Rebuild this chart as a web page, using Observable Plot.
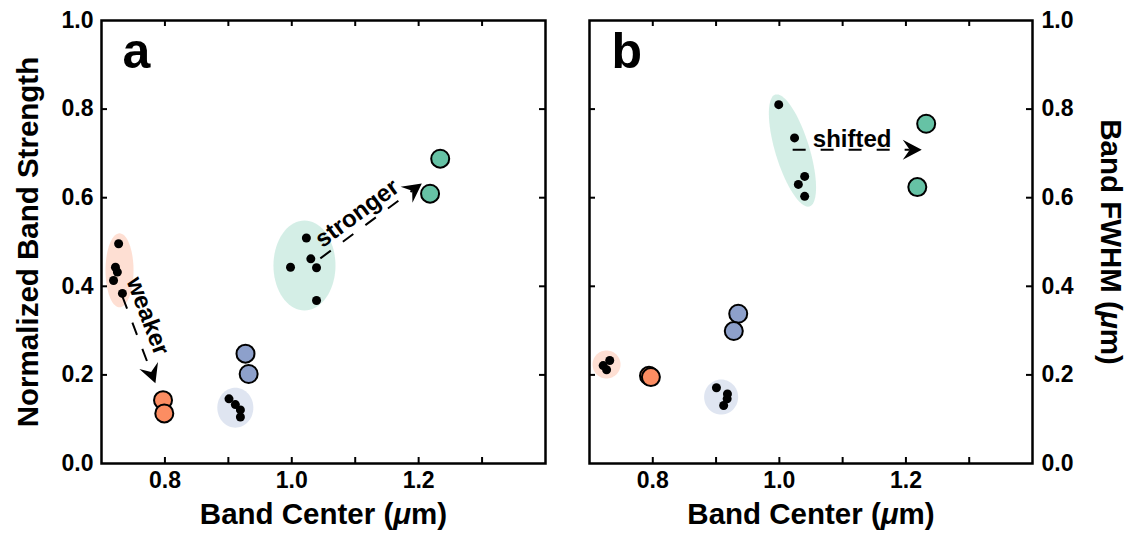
<!DOCTYPE html>
<html><head><meta charset="utf-8">
<script src="https://cdn.jsdelivr.net/npm/d3@7"></script>
<script src="https://cdn.jsdelivr.net/npm/@observablehq/plot@0.6"></script>
<style>
html,body{margin:0;padding:0;background:#fff;}
#wrap{display:flex;width:1127px;height:535px;overflow:hidden;}
#wrap svg{display:block;flex:none;}
</style></head><body><div id="wrap"></div>
<script>
// ---------- data ----------
const groups = ["c1", "c2", "c3"];
const groupColors = ["#fc8d62", "#8da0cb", "#66c2a5"];
const xDomain = [0.7, 1.4];
const yDomain = [0, 1];
const xTickLabels = [0.8, 1.0, 1.2];
const xTickMarks = [0.8, 0.9, 1.0, 1.1, 1.2, 1.3];
const yTickLabels = [0, 0.2, 0.4, 0.6, 0.8, 1.0];
const yTickMarks = [0.2, 0.4, 0.6, 0.8];

// Panel a: individual spectra (black), means (coloured)
const spectraA = [
  {group: "c1", x: 0.727, y: 0.496}, {group: "c1", x: 0.722, y: 0.443},
  {group: "c1", x: 0.725, y: 0.432}, {group: "c1", x: 0.719, y: 0.413},
  {group: "c1", x: 0.733, y: 0.384},
  {group: "c2", x: 0.901, y: 0.146}, {group: "c2", x: 0.911, y: 0.133},
  {group: "c2", x: 0.919, y: 0.121}, {group: "c2", x: 0.919, y: 0.105},
  {group: "c3", x: 1.023, y: 0.509}, {group: "c3", x: 0.998, y: 0.443},
  {group: "c3", x: 1.030, y: 0.462}, {group: "c3", x: 1.039, y: 0.442},
  {group: "c3", x: 1.039, y: 0.368}
];
const labA = [
  {group: "c1", x: 0.797, y: 0.143}, {group: "c1", x: 0.799, y: 0.113},
  {group: "c2", x: 0.927, y: 0.248}, {group: "c2", x: 0.932, y: 0.202},
  {group: "c3", x: 1.234, y: 0.688}, {group: "c3", x: 1.218, y: 0.609}
];
const clustersA = [
  {group: "c1", x: 0.7284, y: 0.436, rx: 0.0221, ry: 0.0835, tilt: 0},
  {group: "c2", x: 0.911, y: 0.126, rx: 0.0284, ry: 0.0451, tilt: 0},
  {group: "c3", x: 1.020, y: 0.447, rx: 0.0489, ry: 0.1016, tilt: 0}
];
const arrowsA = [
  {label: "weaker", x1: 0.733, y1: 0.377, x2: 0.785, y2: 0.181, tx: 0.773, ty: 0.333},
  {label: "stronger", x1: 1.045, y1: 0.463, x2: 1.205, y2: 0.632, tx: 1.103, ty: 0.565}
];

// Panel b
const spectraB = [
  {group: "c1", x: 0.732, y: 0.2325}, {group: "c1", x: 0.7216, y: 0.221},
  {group: "c1", x: 0.727, y: 0.2115},
  {group: "c2", x: 0.9006, y: 0.171}, {group: "c2", x: 0.918, y: 0.157},
  {group: "c2", x: 0.9175, y: 0.146}, {group: "c2", x: 0.912, y: 0.131},
  {group: "c3", x: 0.999, y: 0.810}, {group: "c3", x: 1.024, y: 0.735},
  {group: "c3", x: 1.040, y: 0.648}, {group: "c3", x: 1.030, y: 0.630},
  {group: "c3", x: 1.040, y: 0.603}
];
const labB = [
  {group: "c1", x: 0.794, y: 0.198}, {group: "c1", x: 0.797, y: 0.195},
  {group: "c2", x: 0.935, y: 0.338}, {group: "c2", x: 0.928, y: 0.299},
  {group: "c3", x: 1.232, y: 0.767}, {group: "c3", x: 1.218, y: 0.624}
];
const clustersB = [
  {group: "c1", x: 0.7269, y: 0.2235, rx: 0.0221, ry: 0.0316, tilt: 0},
  {group: "c2", x: 0.908, y: 0.150, rx: 0.0269, ry: 0.0395, tilt: 0},
  {group: "c3", x: 1.0207, y: 0.7065, rx: 0.0269, ry: 0.132, tilt: -17}
];
const arrowsB = [
  {label: "shifted", x1: 1.021, y1: 0.708, x2: 1.225, y2: 0.708, tx: 1.115, ty: 0.7314}
];

// ---------- drawing ----------
const FONT = "'Liberation Sans', Arial, Helvetica, sans-serif";
const H = 535, MT = 20, MB = 72;

const stealth = {
  draw(ctx) {
    ctx.moveTo(0, 0);
    ctx.lineTo(-19, -10);
    ctx.lineTo(-12, 0);
    ctx.lineTo(-19, 10);
    ctx.closePath();
  }
};

function panel({W, ml, mr, spectra, lab, clusters, arrows, letter, letterDx, yAnchor, yPad, yTitle, yTitleDx, yTitleRotate}) {
  const plotW = W - ml - mr, plotH = H - MT - MB;
  const KX = plotW / (xDomain[1] - xDomain[0]);
  const KY = plotH / (yDomain[1] - yDomain[0]);
  const ang = a => Math.atan2(-(a.y2 - a.y1) * KY, (a.x2 - a.x1) * KX) * 180 / Math.PI;
  const ellPts = clusters.flatMap(e => {
    const a = e.rx * KX, b = e.ry * KY, th = e.tilt * Math.PI / 180;
    return d3.range(0, 72).map(i => {
      const t = i / 72 * 2 * Math.PI;
      const ox = a * Math.cos(t), oy = b * Math.sin(t);
      const px = ox * Math.cos(th) - oy * Math.sin(th);
      const py = ox * Math.sin(th) + oy * Math.cos(th);
      return {group: e.group, x: e.x + px / KX, y: e.y - py / KY};
    });
  });
  const lineEnd = arrows.map(a => {
    const r = ang(a) * Math.PI / 180;
    return {...a, xe: a.x2 - Math.cos(r) * 12 / KX, ye: a.y2 + Math.sin(r) * 12 / KY};
  });
  return Plot.plot({
    width: W, height: H,
    marginLeft: ml, marginRight: mr, marginTop: MT, marginBottom: MB,
    x: {domain: xDomain},
    y: {domain: yDomain},
    color: {domain: groups, range: groupColors},
    style: {fontFamily: FONT, fontSize: "23px", fontWeight: "bold", color: "black", background: "white", overflow: "visible"},
    marks: [
      Plot.line(ellPts, {x: "x", y: "y", z: "group", fill: "group", fillOpacity: 0.28, stroke: "none", curve: "linear-closed"}),
      Plot.link(lineEnd, {x1: "x1", y1: "y1", x2: "xe", y2: "ye", stroke: "black", strokeWidth: 2, strokeDasharray: "13,15"}),
      Plot.dot(arrows, {x: "x2", y: "y2", symbol: stealth, rotate: ang, fill: "black", stroke: "none", r: 5}),
      Plot.text(arrows, {x: "tx", y: "ty", text: "label", rotate: ang, fontSize: 24, fontWeight: "bold", fill: "black"}),
      Plot.dot(spectra, {x: "x", y: "y", r: 4.5, fill: "black", stroke: "none"}),
      Plot.dot(lab, {x: "x", y: "y", r: 9, fill: "group", stroke: "black", strokeWidth: 2}),
      Plot.frame({stroke: "black", strokeWidth: 2.5}),
      Plot.tickX(xTickMarks, {x: d => d, insetTop: plotH - 6, strokeWidth: 2}),
      Plot.tickX(xTickMarks, {x: d => d, insetBottom: plotH - 6, strokeWidth: 2}),
      Plot.tickY(yTickMarks, {y: d => d, insetRight: plotW - 6, strokeWidth: 2}),
      Plot.tickY(yTickMarks, {y: d => d, insetLeft: plotW - 6, strokeWidth: 2}),
      Plot.axisX({ticks: xTickLabels, tickSize: 0, tickPadding: 8, tickFormat: d => d.toFixed(1), label: null, fontSize: 23, fontWeight: "bold"}),
      Plot.axisY({anchor: yAnchor, ticks: yTickLabels, tickSize: 0, tickPadding: yPad, tickFormat: d => d.toFixed(1), label: null, fontSize: 23, fontWeight: "bold"}),
      Plot.text([letter], {frameAnchor: "top-left", text: d => d, dx: letterDx, dy: 12, lineAnchor: "top", textAnchor: "start", fontSize: 50, fontWeight: "bold", fill: "black"}),
      Plot.text(["Band Center (μm)"], {frameAnchor: "bottom", text: d => d, dy: 51, lineAnchor: "middle", textAnchor: "middle", fontSize: 29.5, fontWeight: "bold", fill: "black"}),
      Plot.text([yTitle], {frameAnchor: yAnchor, text: d => d, dx: yTitleDx, rotate: yTitleRotate, textAnchor: "middle", lineAnchor: "middle", fontSize: 29.5, fontWeight: "bold", fill: "black"})
    ]
  });
}

const wrap = document.getElementById("wrap");
wrap.appendChild(panel({
  W: 567, ml: 101, mr: 22, spectra: spectraA, lab: labA, clusters: clustersA, arrows: arrowsA,
  letter: "a", letterDx: 21, yAnchor: "left", yPad: 8, yTitle: "Normalized Band Strength", yTitleDx: -73, yTitleRotate: -90
}));
wrap.appendChild(panel({
  W: 560, ml: 22, mr: 95, spectra: spectraB, lab: labB, clusters: clustersB, arrows: arrowsB,
  letter: "b", letterDx: 22, yAnchor: "right", yPad: 9, yTitle: "Band FWHM (μm)", yTitleDx: 78, yTitleRotate: 90
}));

// italic μ
wrap.querySelectorAll("text").forEach(t => {
  const s = t.textContent;
  if (!s.includes("μ") || t.querySelector("tspan")) return;
  const parts = s.split("μ");
  t.textContent = "";
  parts.forEach((p, i) => {
    if (i > 0) {
      const mu = document.createElementNS("http://www.w3.org/2000/svg", "tspan");
      mu.setAttribute("font-style", "italic");
      mu.textContent = "μ";
      t.appendChild(mu);
    }
    if (p) {
      const sp = document.createElementNS("http://www.w3.org/2000/svg", "tspan");
      sp.textContent = p;
      t.appendChild(sp);
    }
  });
});
</script>
</body></html>
